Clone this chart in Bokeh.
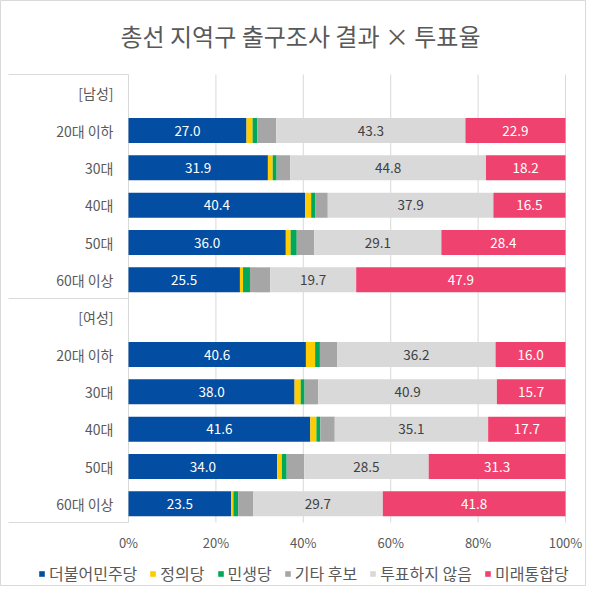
from bokeh.plotting import figure
from bokeh.models import ColumnDataSource, Legend, LegendItem, Range1d
from bokeh.embed import file_html
from bokeh.resources import INLINE
from bokeh.core.properties import value

title_text = "총선 지역구 출구조사 결과 × 투표율"
categories = ["[남성]", "20대 이하", "30대", "40대", "50대", "60대 이상",
              "[여성]", "20대 이하", "30대", "40대", "50대", "60대 이상"]
series = ["더불어민주당", "정의당", "민생당", "기타 후보", "투표하지 않음", "미래통합당"]
colors = ["#034EA2", "#FFCC00", "#00A85A", "#A6A6A6", "#D9D9D9", "#EF426F"]

# values for each category row (0 for the group header rows)
minjoo = [0, 27.0, 31.9, 40.4, 36.0, 25.5, 0, 40.6, 38.0, 41.6, 34.0, 23.5]
jeongui = [0, 1.4, 1.1, 1.4, 1.1, 0.7, 0, 2.1, 1.4, 1.4, 1.1, 0.5]
minsaeng = [0, 1.1, 0.9, 0.9, 1.4, 1.6, 0, 1.1, 0.9, 0.9, 1.1, 1.1]
others = [0, 4.3, 3.1, 2.9, 4.0, 4.6, 0, 4.0, 3.1, 3.3, 4.0, 3.4]
novote = [0, 43.3, 44.8, 37.9, 29.1, 19.7, 0, 36.2, 40.9, 35.1, 28.5, 29.7]
mirae = [0, 22.9, 18.2, 16.5, 28.4, 47.9, 0, 16.0, 15.7, 17.7, 31.3, 41.8]
header_rows = [0, 6]
x_ticks = [0, 20, 40, 60, 80, 100]
x_tick_labels = ["0%", "20%", "40%", "60%", "80%", "100%"]

FONT = "Noto Sans CJK KR"
TXT = "#595959"
GRID = "#D9D9D9"

W, H = 586, 586
PX_X = 4.37                  # pixels per percent
ROW_PX = 448 / 12.0          # pixels per category row
ZERO_X = 128                 # px of 0%
BASE_Y = 522                 # px (from top) of the bottom of the category axis
BOX_LEFT = 8
n = len(categories)

x0 = -ZERO_X / PX_X
x1 = (W - ZERO_X) / PX_X
y0 = -(H - BASE_Y) / ROW_PX
y1 = BASE_Y / ROW_PX

def ref_y(py):
    """pixel row -> data y"""
    return (BASE_Y - py) / ROW_PX

p = figure(width=W, height=H, output_backend="svg", toolbar_location=None,
           x_range=Range1d(x0, x1), y_range=Range1d(y0, y1), min_border=0)
p.outline_line_color = "#D9D9D9"
p.background_fill_color = "white"
p.axis.visible = False
p.grid.visible = False

ys = [n - i - 0.5 for i in range(n)]
data_idx = [i for i in range(n) if i not in header_rows]
cols = [minjoo, jeongui, minsaeng, others, novote, mirae]
keys = ["s%d" % k for k in range(len(series))]
src = {"y": [ys[i] for i in data_idx]}
for k, c in zip(keys, cols):
    src[k] = [c[i] for i in data_idx]
source = ColumnDataSource(src)

# grid & category box lines
p.segment(x0=x_ticks, y0=[0] * len(x_ticks), x1=x_ticks, y1=[n] * len(x_ticks),
          line_color=GRID, line_width=1)
sep_y = [n, n - 6, 0]
box_x = (BOX_LEFT - ZERO_X) / PX_X
p.segment(x0=[box_x] * 3, y0=sep_y, x1=[0] * 3, y1=sep_y, line_color=GRID, line_width=1)

renderers = p.hbar_stack(keys, y="y", height=0.67, color=colors, source=source, line_width=0)

# data labels
lab_x, lab_y, lab_t, lab_c = [], [], [], []
label_series = {0: "white", 4: "#404040", 5: "white"}
for i in data_idx:
    cum = 0.0
    for k, c in enumerate(cols):
        v = c[i]
        if k in label_series:
            lab_x.append(cum + v / 2)
            lab_y.append(ys[i])
            lab_t.append("%.1f" % v)
            lab_c.append(label_series[k])
        cum += v
p.text(x=lab_x, y=lab_y, text=lab_t, text_color=lab_c, text_font=value(FONT),
       text_font_size="13.5px", text_align="center", text_baseline="middle")

# category labels
p.text(x=[-15 / PX_X] * n, y=ys, text=categories, text_color=TXT,
       text_font=value(FONT), text_font_size="14px", text_align="right",
       text_baseline="middle")

# x tick labels
p.text(x=x_ticks, y=[ref_y(542)] * len(x_ticks), text=x_tick_labels, text_color=TXT,
       text_font=value(FONT), text_font_size="13px", text_align="center",
       text_baseline="middle")

# title
p.text(x=[(300 - ZERO_X) / PX_X], y=[ref_y(35)], text=[title_text],
       text_color=TXT, text_font=value(FONT), text_font_size="24px",
       text_align="center", text_baseline="middle")

legend = Legend(items=[LegendItem(label=s, renderers=[r]) for s, r in zip(series, renderers)],
                orientation="horizontal", location=(38, 1))
legend.label_text_font = FONT
legend.label_text_font_size = "16px"
legend.label_text_color = TXT
legend.glyph_width = 7
legend.glyph_height = 7
legend.label_standoff = 4
legend.spacing = 12
legend.padding = 2
legend.margin = 0
legend.border_line_color = None
legend.background_fill_alpha = 0
p.add_layout(legend)

open("out.html", "w").write(file_html(p, INLINE))
